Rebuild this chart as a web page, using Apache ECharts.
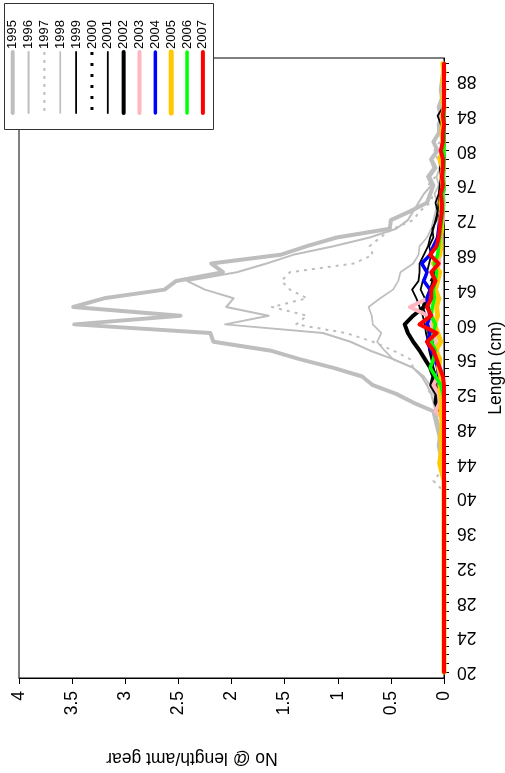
<!DOCTYPE html>
<html><head><meta charset="utf-8">
<script src="https://cdn.jsdelivr.net/npm/echarts@6/dist/echarts.min.js"></script>
<style>html,body{margin:0;padding:0;background:#fff}#c{width:505px;height:773px}</style>
</head><body><div id="c"></div>
<script>
// Length classes (cm), 20..90
const lengths = [20,21,22,23,24,25,26,27,28,29,30,31,32,33,34,35,36,37,38,39,40,41,42,43,44,45,46,47,48,49,
  50,51,52,53,54,55,56,57,58,59,60,61,62,63,64,65,66,67,68,69,70,71,72,73,74,75,76,77,78,79,80,81,82,83,84,85,86,87,88,89,90];
const lengthTicks = [20,21,22,23,24,25,26,27,28,29,30,31,32,33,34,35,36,37,38,39,40,41,42,43,44,45,46,47,48,49,
  50,51,52,53,54,55,56,57,58,59,60,61,62,63,64,65,66,67,68,69,70,71,72,73,74,75,76,77,78,79,80,81,82,83,84,85,86,87,88,89,90];
const lengthLabels = [20,24,28,32,36,40,44,48,52,56,60,64,68,72,76,80,84,88];
const valueLabels = [0,0.5,1,1.5,2,2.5,3,3.5,4];
const years = ['1995','1996','1997','1998','1999','2000','2001','2002','2003','2004','2005','2006','2007'];

const y1995 = [0,0,0,0,0,0,0,0,0,0, 0,0,0,0,0,0,0,0,0,0, 0,0,0,0,0.02,0.03,0.05,0.04,0.06,0.08,
  0.1,0.29,0.45,0.67,0.77,1.04,1.36,1.64,2.17,2.2, 3.48,2.48,3.49,3.2,2.63,2.52,2.08,2.19,1.54,1.29,
  1.01,0.51,0.5,0.32,0.16,0.13,0.1,0.14,0.08,0.12, 0.06,0.1,0.05,0.04,0.03,0.05,0.02,0.03,0.02,0.01, 0.01];
const y1996 = [0,0,0,0,0,0,0,0,0,0, 0,0,0,0,0,0,0,0,0,0, 0,0,0,0,0.01,0.02,0.03,0.05,0.04,0.06,
  0.08,0.1,0.12,0.16,0.21,0.29,0.48,0.7,0.88,1.14, 2.06,1.65,2.05,1.98,2.25,2.42,1.95,1.67,1.42,1.04,
  0.7,0.45,0.34,0.29,0.24,0.19,0.12,0.16,0.1,0.13, 0.07,0.09,0.05,0.06,0.03,0.04,0.02,0.03,0.01,0.02, 0.01];
const y1997 = [0,0,0,0,0,0,0,0,0,0, 0,0,0,0,0,0,0,0,0,0, 0,0.02,0.1,0.03,0.02,0.03,0.02,0.04,0.05,0.06,
  0.05,0.08,0.13,0.16,0.19,0.29,0.32,0.48,0.67,0.92, 1.39,1.29,1.62,1.29,1.45,1.53,1.45,0.85,0.67,0.7,
  0.6,0.48,0.29,0.23,0.13,0.1,0.15,0.08,0.12,0.06, 0.09,0.04,0.06,0.03,0.04,0.02,0.03,0.01,0.02,0.01, 0];
const y1998 = [0,0,0,0,0,0,0,0,0,0, 0,0,0,0,0,0,0,0,0,0, 0,0,0,0,0,0.02,0.03,0.02,0.05,0.06,
  0.08,0.06,0.1,0.13,0.19,0.29,0.48,0.56,0.63,0.59, 0.67,0.68,0.71,0.6,0.48,0.43,0.41,0.29,0.24,0.23,
  0.16,0.12,0.1,0.08,0.06,0.09,0.05,0.07,0.04,0.05, 0.03,0.02,0.03,0.02,0.01,0.02,0.01,0.01,0,0, 0];
const y1999 = [0,0,0,0,0,0,0,0,0,0, 0,0,0,0,0,0,0,0,0,0, 0,0,0,0,0,0,0,0,0.01,0.02,
  0.03,0.04,0.05,0.06,0.08,0.1,0.12,0.14,0.15,0.17, 0.18,0.2,0.23,0.26,0.3,0.24,0.23,0.23,0.19,0.15,
  0.13,0.1,0.08,0.06,0.08,0.05,0.04,0.03,0.04,0.02, 0.03,0.02,0.01,0.03,0.06,0.01,0,0,0,0, 0];
const y2000 = [0,0,0,0,0,0,0,0,0,0, 0,0,0,0,0,0,0,0,0,0, 0,0,0,0,0,0,0,0,0,0,
  0.02,0.03,0.04,0.05,0.06,0.08,0.07,0.1,0.09,0.12, 0.1,0.13,0.11,0.14,0.1,0.12,0.08,0.1,0.07,0.06,
  0.05,0.04,0.05,0.03,0.02,0.03,0.01,0.02,0.01,0.01, 0.01,0,0.01,0,0,0,0,0,0,0, 0];
const y2001 = [0,0,0,0,0,0,0,0,0,0, 0,0,0,0,0,0,0,0,0,0, 0,0,0,0,0,0,0,0,0,0,
  0.02,0.04,0.06,0.08,0.07,0.1,0.11,0.13,0.12,0.15, 0.14,0.17,0.2,0.18,0.22,0.2,0.16,0.14,0.12,0.14,
  0.1,0.11,0.07,0.06,0.05,0.04,0.03,0.02,0.03,0.02, 0.01,0,0,0,0,0,0,0,0,0, 0];
const y2002 = [0,0,0,0,0,0,0,0,0,0, 0,0,0,0,0,0,0,0,0,0, 0,0,0,0,0,0,0,0,0,0,
  0.04,0.08,0.07,0.12,0.1,0.13,0.18,0.23,0.29,0.34, 0.37,0.29,0.19,0.16,0.12,0.1,0.08,0.07,0.05,0.04,
  0.03,0.02,0.01,0.01,0.01,0.01,0,0.01,0,0, 0,0,0,0,0,0,0,0,0,0, 0];
const y2003 = [0,0,0,0,0,0,0,0,0,0, 0,0,0,0,0,0,0,0,0,0, 0,0,0,0,0,0,0,0,0,0,
  0.08,0.04,0.05,0.1,0.06,0.05,0.07,0.06,0.08,0.1, 0.12,0.15,0.32,0.15,0.1,0.08,0.06,0.05,0.04,0.03,
  0.03,0.02,0.01,0.01,0,0.01,0,0,0,0, 0,0,0,0,0,0,0,0,0,0, 0];
const y2004 = [0,0,0,0,0,0,0,0,0,0, 0,0,0,0,0,0,0,0,0,0, 0,0,0,0,0,0,0,0,0,0,
  0,0,0.02,0.04,0.05,0.06,0.08,0.12,0.16,0.13, 0.16,0.13,0.15,0.16,0.13,0.19,0.16,0.21,0.13,0.1,
  0.06,0.05,0.04,0.03,0.02,0.02,0.01,0.01,0.01,0, 0.01,0,0,0,0,0,0,0,0,0, 0];
const y2005 = [0,0,0,0,0,0,0,0,0,0, 0,0,0,0,0,0,0,0,0,0, 0,0,0,0.02,0.04,0.03,0.02,0.03,0.02,0.02,
  0.03,0.02,0.03,0.04,0.03,0.05,0.04,0.08,0.03,0.06, 0.09,0.06,0.07,0.05,0.08,0.06,0.04,0.1,0.04,0.03,
  0.04,0.02,0.03,0.02,0.03,0.02,0.01,0.02,0.01,0.04, 0.01,0.01,0.02,0.01,0.01,0,0.01,0,0.01,0, 0.01];
const y2006 = [0,0,0,0,0,0,0,0,0,0, 0,0,0,0,0,0,0,0,0,0, 0,0,0,0,0,0,0,0,0,0,
  0,0,0.01,0.03,0.08,0.13,0.1,0.08,0.12,0.1, 0.08,0.12,0.11,0.09,0.1,0.08,0.07,0.09,0.06,0.05,
  0.04,0.03,0.02,0.01,0.01,0.01,0,0.01,0,0, 0,0,0,0,0,0,0,0,0,0, 0];
const y2007 = [0,0,0,0,0,0,0,0,0,0, 0,0,0,0,0,0,0,0,0,0, 0,0,0,0,0,0,0,0,0,0,
  0,0,0,0,0.01,0.04,0.07,0.1,0.16,0.07, 0.23,0.12,0.16,0.12,0.12,0.08,0.12,0.05,0.13,0.07,
  0.05,0.04,0.03,0.02,0.02,0.03,0.01,0.02,0.01,0.01, 0.03,0.01,0.01,0,0.01,0,0,0,0,0, 0];

const seriesValues = [y1995,y1996,y1997,y1998,y1999,y2000,y2001,y2002,y2003,y2004,y2005,y2006,y2007];
const colors = ['#BEBEBE','#BEBEBE','#BEBEBE','#BEBEBE','#000000','#000000','#000000','#000000','#FFB6C1','#0000FF','#FFC800','#00FF00','#FF0000'];
const widths = [4,2,2,1.7,1.8,3,1.8,4,4,3.5,5,3.5,4];
const dashes = ['solid','solid',[3,5],'solid','solid',[3,8],'solid','solid','solid','solid','solid','solid','solid'];

const FONT = '"Liberation Sans", Arial, Helvetica, sans-serif';
const chart = echarts.init(document.getElementById('c'), null, {renderer:'canvas'});

const series = years.map((y, i) => ({
  name: y, type: 'line', showSymbol: false, symbol: 'none', clip: false, animation: false,
  data: lengths.map((L, k) => [seriesValues[i][k], L]),
  lineStyle: {color: colors[i], width: widths[i], type: dashes[i],
    cap: dashes[i] === 'solid' ? 'round' : 'butt', join: 'round'},
  emphasis: {disabled: true}
}));

// legend drawn as graphic (vertical lines with rotated labels)
const legendEls = [{
  type: 'rect', shape: {x: 4.5, y: 3.5, width: 209, height: 126},
  style: {fill: '#fff', stroke: '#333', lineWidth: 1}, z: 100
}];
years.forEach((y, i) => {
  const x = 12.7 + i * 15.85;
  legendEls.push({
    type: 'line', shape: {x1: x, y1: 52, x2: x, y2: 113}, z: 101,
    style: {stroke: colors[i], lineWidth: widths[i],
      lineDash: dashes[i] === 'solid' ? null : dashes[i], lineCap: dashes[i] === 'solid' ? 'round' : 'butt'}
  });
  legendEls.push({
    type: 'text', x: x, y: 49, rotation: Math.PI / 2, z: 101,
    style: {text: y, font: '13px ' + FONT, fill: '#000', align: 'left', verticalAlign: 'middle'}
  });
});
legendEls.push({
  type: 'text', x: 192, y: 758, rotation: Math.PI, z: 101,
  style: {text: 'No @ length/amt gear', font: '17.5px ' + FONT, fill: '#000', align: 'center', verticalAlign: 'middle'}
});

chart.setOption({
  animation: false,
  backgroundColor: '#fff',
  grid: {left: 19, right: 61, top: 58, bottom: 95, show: true, borderColor: '#000', borderWidth: 1,
    containLabel: false, outerBoundsMode: 'none'},
  xAxis: {
    type: 'value', inverse: true, min: 0, max: 4, interval: 0.5, position: 'bottom',
    axisLine: {show: true, lineStyle: {color: '#000', width: 1}},
    axisTick: {show: true, length: 6, lineStyle: {color: '#000'}},
    axisLabel: {rotate: 90, margin: 13, fontSize: 17.5, color: '#000', fontFamily: FONT, customValues: valueLabels},
    splitLine: {show: false}
  },
  yAxis: {
    type: 'value', position: 'right', min: 19.31, max: 90.65,
    axisLine: {show: true, onZero: false, lineStyle: {color: '#000', width: 1}},
    axisTick: {show: true, length: 5, customValues: lengthTicks, lineStyle: {color: '#000'}},
    axisLabel: {rotate: 180, margin: 13, fontSize: 17.5, color: '#000', fontFamily: FONT, customValues: lengthLabels},
    splitLine: {show: false},
    name: 'Length (cm)', nameLocation: 'middle', nameRotate: 90, nameGap: 42,
    nameTextStyle: {fontSize: 17.5, color: '#000', fontFamily: FONT}
  },
  series: series,
  graphic: legendEls
});
</script></body></html>
